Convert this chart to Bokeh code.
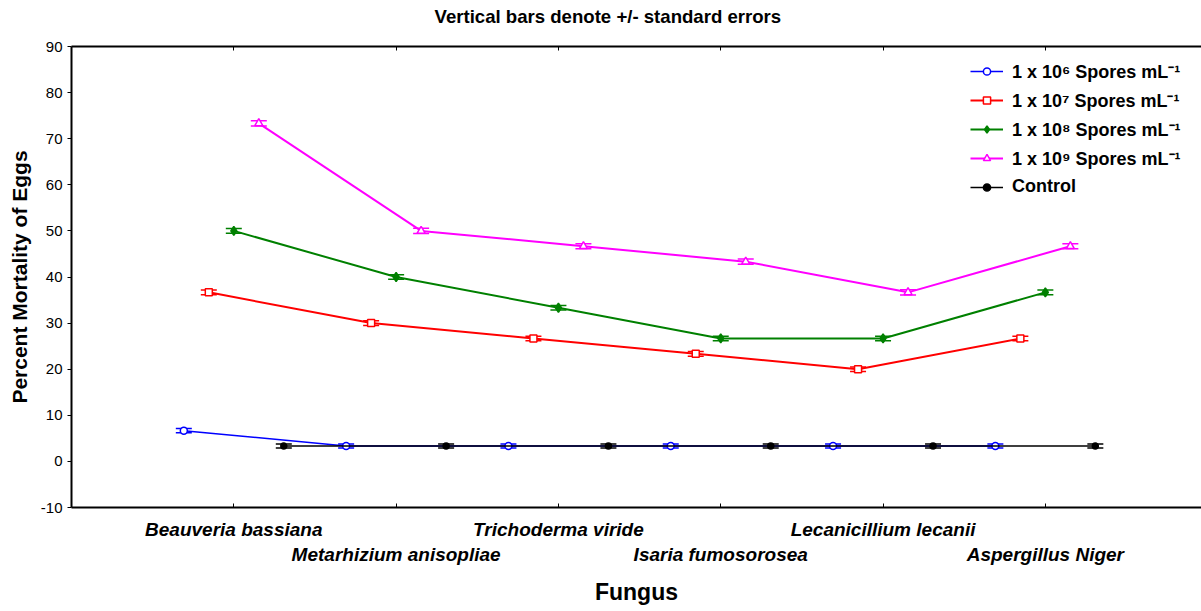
from bokeh.plotting import figure
from bokeh.models import (ColumnDataSource, Whisker, TeeHead, LinearAxis, FixedTicker,
                          Range1d, Legend, LegendItem)
from bokeh.embed import file_html
from bokeh.resources import INLINE

# ---------------- data ----------------
fungi = ["Beauveria bassiana", "Metarhizium anisopliae", "Trichoderma viride",
         "Isaria fumosorosea", "Lecanicillium lecanii", "Aspergillus Niger"]
series_names = ["1 x 10\u2076 Spores mL\u207b\u00b9", "1 x 10\u2077 Spores mL\u207b\u00b9",
                "1 x 10\u2078 Spores mL\u207b\u00b9", "1 x 10\u2079 Spores mL\u207b\u00b9", "Control"]
mort_1e6 = [6.67, 3.33, 3.33, 3.33, 3.33, 3.33]
mort_1e7 = [36.67, 30.0, 26.67, 23.33, 20.0, 26.67]
mort_1e8 = [50.0, 40.0, 33.33, 26.67, 26.67, 36.67]
mort_1e9 = [73.33, 50.0, 46.67, 43.33, 36.67, 46.67]
mort_ctrl = [3.33, 3.33, 3.33, 3.33, 3.33, 3.33]
se_1e6 = [0.45, 0.45, 0.45, 0.45, 0.45, 0.45]
se_1e7 = [0.5, 0.5, 0.5, 0.5, 0.5, 0.5]
se_1e8 = [0.5, 0.5, 0.5, 0.5, 0.5, 0.5]
se_1e9 = [0.55, 0.55, 0.55, 0.55, 0.55, 0.55]
se_ctrl = [0.45, 0.45, 0.45, 0.45, 0.45, 0.45]
y_ticks = [-10, 0, 10, 20, 30, 40, 50, 60, 70, 80, 90]

# ---------------- style ----------------
FONT = "Liberation Sans"
colors = ["#0000FF", "#FF0000", "#008000", "#FF00FF", "#000000"]
markers = ["circle", "square", "diamond", "triangle", "circle"]
fills = ["white", "white", "#008000", "white", "#000000"]
msizes = [7, 7, 9, 8, 6]
lwidths = [1.5, 2, 2, 2, 1.5]
dodge_step = 0.154
dodge_k = [-2, -1, 0, 1, 2]

p = figure(width=1201, height=607, output_backend="svg", toolbar_location=None,
           x_range=Range1d(0, 6.962), y_range=Range1d(-10, 90),
           x_axis_location=None, y_axis_location=None,
           min_border_left=71, min_border_right=0, min_border_top=46, min_border_bottom=0)
p.outline_line_color = None
p.grid.grid_line_color = None
p.background_fill_color = "white"
p.border_fill_color = "white"

cat_pos = list(range(1, len(fungi) + 1))

# y axis
yax = LinearAxis(ticker=FixedTicker(ticks=y_ticks))
yax.axis_line_width = 2
yax.axis_line_color = "black"
yax.major_tick_line_color = "black"
yax.major_tick_out = 4
yax.major_tick_in = 0
yax.minor_tick_line_color = None
yax.major_label_standoff = 5
yax.major_label_overrides = {t: str(t) for t in y_ticks}
yax.major_label_text_font = FONT
yax.major_label_text_font_size = "15px"
yax.major_label_text_color = "black"
yax.axis_label = "Percent Mortality of Eggs"
yax.axis_label_text_font = FONT
yax.axis_label_text_font_size = "21px"
yax.axis_label_text_font_style = "bold"
yax.axis_label_text_color = "black"
yax.axis_label_standoff = 7
p.add_layout(yax, "left")

# bottom axis: line + inward ticks only
xax0 = LinearAxis(ticker=FixedTicker(ticks=cat_pos))
xax0.axis_line_width = 2
xax0.axis_line_color = "black"
xax0.major_tick_line_color = "black"
xax0.major_tick_in = 4
xax0.major_tick_out = 0
xax0.minor_tick_line_color = None
xax0.major_label_text_color = None
xax0.major_label_text_font_size = "1px"
xax0.major_label_standoff = 0
p.add_layout(xax0, "below")

# first row of category labels
xax1 = LinearAxis(ticker=FixedTicker(ticks=cat_pos[0::2]))
xax1.axis_line_color = None
xax1.major_tick_line_color = None
xax1.minor_tick_line_color = None
xax1.major_tick_in = 0
xax1.major_tick_out = 0
xax1.major_label_overrides = {i + 1: fungi[i] for i in range(0, len(fungi), 2)}
xax1.major_label_standoff = 11
xax1.major_label_text_font = FONT
xax1.major_label_text_font_size = "19px"
xax1.major_label_text_font_style = "bold italic"
xax1.major_label_text_color = "black"
p.add_layout(xax1, "below")

# second row of category labels + axis title
xax2 = LinearAxis(ticker=FixedTicker(ticks=cat_pos[1::2]))
xax2.axis_line_color = None
xax2.major_tick_line_color = None
xax2.minor_tick_line_color = None
xax2.major_tick_in = 0
xax2.major_tick_out = 0
xax2.major_label_overrides = {i + 1: fungi[i] for i in range(1, len(fungi), 2)}
xax2.major_label_standoff = 1
xax2.major_label_text_font = FONT
xax2.major_label_text_font_size = "19px"
xax2.major_label_text_font_style = "bold italic"
xax2.major_label_text_color = "black"
xax2.axis_label = "Fungus"
xax2.axis_label_text_font = FONT
xax2.axis_label_text_font_size = "23px"
xax2.axis_label_text_font_style = "bold"
xax2.axis_label_text_color = "black"
xax2.axis_label_standoff = 11
p.add_layout(xax2, "below")

# top axis: line + inward ticks only
tax = LinearAxis(ticker=FixedTicker(ticks=cat_pos))
tax.axis_line_width = 2
tax.axis_line_color = "black"
tax.major_tick_line_color = "black"
tax.major_tick_in = 4
tax.major_tick_out = 0
tax.minor_tick_line_color = None
tax.major_label_text_color = None
tax.major_label_text_font_size = "1px"
tax.major_label_standoff = 0
p.add_layout(tax, "above")

# invisible spacer between the top axis and the title
spacer = LinearAxis(ticker=FixedTicker(ticks=cat_pos))
spacer.axis_line_color = None
spacer.major_tick_line_color = None
spacer.minor_tick_line_color = None
spacer.major_tick_in = 0
spacer.major_tick_out = 18
spacer.major_label_text_color = None
spacer.major_label_text_font_size = "1px"
spacer.major_label_standoff = 0
p.add_layout(spacer, "above")

p.title.text = "Vertical bars denote +/- standard errors"
p.title.text_font = FONT
p.title.text_font_size = "18.6px"
p.title.text_font_style = "bold"
p.title.text_color = "black"
p.title.align = "left"
p.title.offset = 363
p.title.standoff = 4

all_vals = [mort_1e6, mort_1e7, mort_1e8, mort_1e9, mort_ctrl]
all_se = [se_1e6, se_1e7, se_1e8, se_1e9, se_ctrl]
items = []
for j in range(5):
    xs = [c + dodge_k[j] * dodge_step for c in cat_pos]
    src = ColumnDataSource(dict(
        x=xs, y=all_vals[j],
        upper=[v + s for v, s in zip(all_vals[j], all_se[j])],
        lower=[v - s for v, s in zip(all_vals[j], all_se[j])]))
    rl = p.line("x", "y", source=src, line_color=colors[j], line_width=lwidths[j])
    rs = p.scatter("x", "y", source=src, marker=markers[j], size=msizes[j],
                   line_color=colors[j], fill_color=fills[j], line_width=1.5)
    w = Whisker(source=src, base="x", upper="upper", lower="lower",
                line_color=colors[j], line_width=1.5,
                upper_head=TeeHead(size=16, line_color=colors[j], line_width=1.5),
                lower_head=TeeHead(size=16, line_color=colors[j], line_width=1.5))
    p.add_layout(w)
    items.append(LegendItem(label=series_names[j], renderers=[rl, rs]))

leg = Legend(items=items, location=(899, 306))
leg.glyph_width = 33
leg.glyph_height = 18
leg.label_height = 29
leg.spacing = 0
leg.padding = 0
leg.margin = 0
leg.label_standoff = 9
leg.border_line_color = None
leg.background_fill_alpha = 0
leg.label_text_font = FONT
leg.label_text_font_size = "18px"
leg.label_text_font_style = "bold"
leg.label_text_color = "black"
p.add_layout(leg)

open("out.html", "w").write(file_html(p, INLINE))
